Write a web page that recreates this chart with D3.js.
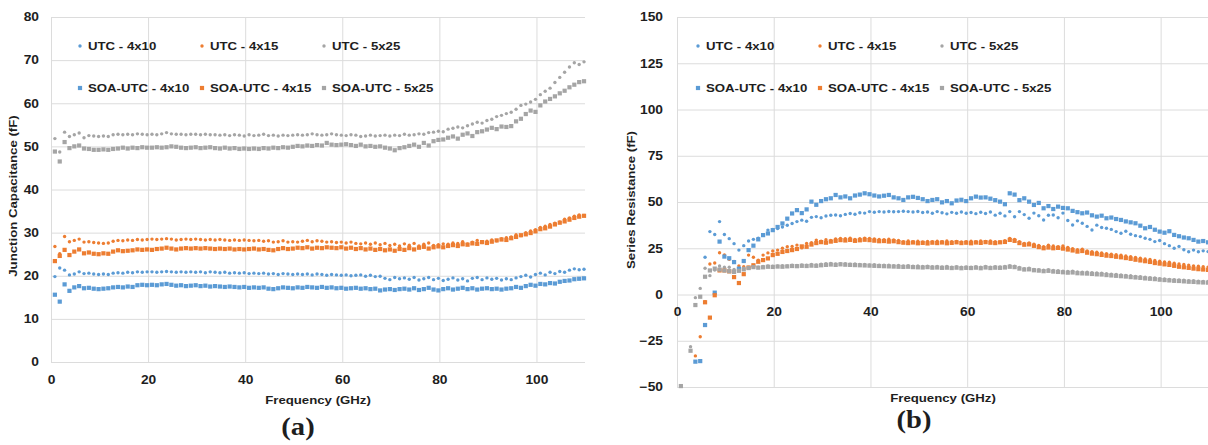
<!DOCTYPE html>
<html>
<head>
<meta charset="utf-8">
<script src="https://cdn.jsdelivr.net/npm/d3@7"></script>
<style>
  body { margin: 0; background: #fff; }
  svg { display: block; }
  text { font-family: "Liberation Sans", Arial, sans-serif; font-weight: bold; fill: #1e1e1e; }
</style>
</head>
<body>
<svg id="chart" width="1208" height="445"></svg>
<script>
// sweep: one point per GHz
const freqGHz = d3.range(110).map(i => 0.8 + i);

const seriesNames = ["UTC - 4x10", "UTC - 4x15", "UTC - 5x25", "SOA-UTC - 4x10", "SOA-UTC - 4x15", "SOA-UTC - 5x25"];
const xTicks = [0, 20, 40, 60, 80, 100];
const capTicks = [0, 10, 20, 30, 40, 50, 60, 70, 80];
const resTicks = [-50, -25, 0, 25, 50, 75, 100, 125, 150];

// (a) Junction capacitance (fF)
const capUtc4x10 = [
  19.8, 21.8, 21.3, 20.2, 20.4, 20.9, 20.5, 20.6, 20.4, 20.3,
  20.4, 20.3, 20.6, 20.7, 20.6, 20.8, 20.7, 20.9, 20.8, 20.9,
  20.9, 20.8, 20.9, 21.0, 20.9, 20.8, 20.9, 20.8, 20.9, 20.8,
  20.9, 20.7, 20.9, 20.8, 20.7, 20.8, 20.6, 20.7, 20.6, 20.7,
  20.5, 20.6, 20.5, 20.6, 20.4, 20.5, 20.3, 20.5, 20.4, 20.3,
  20.4, 20.3, 20.4, 20.2, 20.4, 20.3, 20.1, 20.3, 20.2, 20.1,
  20.2, 20.0, 20.1, 20.2, 19.9, 20.1, 19.8, 19.9, 19.4, 19.1,
  19.6, 19.3, 19.5, 19.2, 19.6, 19.0, 19.3, 19.6, 19.1, 19.4,
  18.9, 19.2, 19.5, 19.0, 19.3, 18.8, 19.4, 19.6, 19.1, 19.5,
  19.2, 19.4, 19.0, 19.3, 19.1, 19.5, 19.8, 20.1, 19.7, 20.3,
  20.6, 20.2, 20.8, 20.5, 21.0, 20.8, 21.3, 21.6, 21.4, 21.5
];
const capUtc4x15 = [
  26.8, 25.1, 29.1, 27.9, 28.2, 28.5, 27.8, 27.9, 27.7, 27.6,
  27.5, 27.6, 28.0, 28.2, 28.1, 28.3, 28.2, 28.4, 28.3, 28.4,
  28.5, 28.4, 28.5, 28.6, 28.5, 28.3, 28.4, 28.5, 28.4, 28.5,
  28.4, 28.3, 28.4, 28.3, 28.4, 28.3, 28.2, 28.3, 28.2, 28.3,
  28.2, 28.1, 28.2, 28.0, 28.1, 27.8, 27.9, 28.1, 27.8, 27.9,
  27.8, 28.0, 28.2, 27.9, 28.1, 28.0, 27.8, 27.9, 27.7, 27.8,
  27.6, 27.8, 27.5, 27.4, 27.6, 27.3, 27.6, 27.2, 27.5, 27.0,
  27.3, 26.9, 27.4, 27.1, 27.5, 26.9, 27.3, 27.6, 27.0, 27.2,
  27.4, 27.3, 27.6, 27.5, 27.9, 27.4, 27.8, 28.2, 27.7, 28.0,
  28.3, 28.1, 28.6, 28.8, 29.0, 29.5, 29.3, 30.0, 30.4, 30.7,
  31.2, 31.5, 31.9, 32.2, 32.5, 33.1, 33.4, 33.8, 34.1, 34.0
];
const capUtc5x25 = [
  51.8, 48.7, 53.3, 52.3, 52.7, 53.1, 52.0, 52.5, 52.4, 52.3,
  52.4, 52.3, 52.7, 52.8, 52.7, 52.8, 52.7, 52.9, 52.8, 52.7,
  52.8, 52.7, 52.9, 53.2, 52.9, 52.8, 52.8, 52.7, 52.8, 52.8,
  52.7, 52.8, 52.7, 52.7, 52.6, 52.7, 52.5, 52.7, 52.6, 52.4,
  52.7, 52.5, 52.6, 52.8, 52.5, 52.6, 52.4, 52.6, 52.5, 52.6,
  52.7, 52.6, 52.7, 52.9, 52.7, 52.6, 52.7, 52.9, 52.7, 52.6,
  52.5, 52.7, 52.6, 52.3, 52.4, 52.6, 52.4, 52.5, 52.6, 52.4,
  52.6, 52.5, 52.8, 52.6, 52.7, 52.9, 52.8, 53.2, 53.3, 53.5,
  53.4, 54.0, 54.2, 54.5, 54.3, 54.8, 55.2, 55.6, 55.4, 56.0,
  56.3, 56.9, 57.2, 57.6, 57.9, 58.6, 59.5, 59.8, 60.3, 60.9,
  62.0, 62.8, 63.5, 64.8, 66.0, 67.2, 68.4, 69.4, 69.0, 69.6
];
const capSoa4x10 = [
  15.6, 14.0, 18.0, 16.5, 17.3, 17.6, 17.1, 17.2, 17.0, 16.9,
  17.0, 17.1, 17.3, 17.4, 17.3, 17.5, 17.4, 17.8, 17.9, 17.8,
  17.9, 17.8, 18.0, 18.1, 17.9, 17.7, 17.8, 17.6, 17.7, 17.8,
  17.6, 17.7, 17.5, 17.6, 17.5, 17.4, 17.5, 17.4, 17.3, 17.4,
  17.2, 17.3, 17.2, 17.3, 17.0, 16.9, 17.1, 17.3, 17.2, 17.1,
  17.3, 17.2, 17.4, 17.3, 17.2, 17.4, 17.2, 17.3, 17.1, 17.2,
  17.0, 17.1, 17.2, 17.0, 17.1, 16.9, 17.0, 16.6, 16.8, 16.9,
  16.7, 16.9, 17.0, 16.8, 17.1, 16.7, 16.9, 17.2, 16.8, 16.6,
  16.9, 17.1, 16.8, 17.0, 17.2, 16.9, 17.1, 16.8, 17.0, 17.1,
  16.9, 17.0, 16.8, 17.0, 17.1, 17.4, 17.2, 17.6, 17.9, 17.7,
  18.1, 18.0, 18.3, 18.2, 18.6, 18.8, 18.9, 19.2, 19.3, 19.4
];
const capSoa4x15 = [
  23.4, 24.6, 26.0, 24.8, 25.6, 26.1, 25.2, 25.4, 25.1, 25.0,
  25.2, 25.1, 25.6, 25.9, 25.7, 25.8, 25.9, 26.1, 26.0, 26.1,
  26.0, 26.2, 26.3, 26.5, 26.3, 26.1, 26.3, 26.4, 26.3, 26.4,
  26.3, 26.4, 26.3, 26.2, 26.3, 26.2, 26.3, 26.1, 26.2, 26.1,
  26.2, 26.3, 26.1, 26.2, 26.0, 25.9, 26.2, 26.4, 26.2, 26.3,
  26.5, 26.4, 26.6, 26.3, 26.5, 26.4, 26.6, 26.5, 26.4, 26.6,
  26.3, 26.5, 26.2, 26.4, 26.1, 26.3, 26.0, 26.2, 25.9, 26.1,
  25.8, 26.2, 26.0, 26.4, 26.1, 26.5, 26.7, 26.3, 26.6, 26.8,
  26.6, 26.9, 27.1, 26.9, 27.3, 27.2, 27.5, 27.4, 27.8, 27.6,
  27.9, 28.2, 28.4, 28.3, 28.7, 29.0, 29.4, 29.6, 29.9, 30.3,
  30.8, 31.0, 31.4, 31.9, 32.3, 32.6, 33.0, 33.4, 33.7, 33.9
];
const capSoa5x25 = [
  48.8, 46.5, 51.0, 49.6, 50.0, 50.2, 49.5, 49.4, 49.2, 49.2,
  49.3, 49.2, 49.4, 49.5, 49.7, 49.5, 49.7, 49.6, 49.8, 49.7,
  49.7, 49.8, 49.7, 49.8, 50.0, 49.9, 49.7, 49.6, 49.7, 49.8,
  49.6, 49.7, 49.8, 49.6, 49.5, 49.7, 49.5, 49.6, 49.4, 49.5,
  49.4, 49.5, 49.4, 49.6, 49.5, 49.7, 49.6, 49.8, 49.7, 49.9,
  50.1, 50.0, 50.2, 50.1, 50.3, 50.2, 50.8, 50.4, 50.3, 50.4,
  50.5, 50.3, 50.1, 50.4, 50.0, 50.1, 49.9, 50.0, 49.7, 49.5,
  49.1, 49.6, 49.8, 50.1, 50.4, 49.9, 50.8, 50.2, 51.2, 51.5,
  51.6, 52.0, 52.3, 51.8, 52.7, 53.0, 52.4, 53.3, 53.5, 53.9,
  54.3, 54.0, 54.6, 54.5, 54.7, 55.8, 56.4, 57.5, 58.3, 58.0,
  59.5, 60.4, 61.0, 61.6, 62.3, 62.9, 63.7, 64.3, 64.9, 65.1
];

// (b) Series resistance, null = point off the chart
const resUtc4x10 = [
  null, null, null, null, null, 20.1, 34.0, 32.4, 39.4, 32.4,
  30.2, 27.5, 24.0, 26.4, 28.9, 29.8, 30.4, 32.1, 34.8, 35.2,
  35.7, 36.5, 37.4, 38.4, 39.4, 40.2, 39.6, 41.7, 42.1, 41.5,
  42.4, 42.8, 43.0, 42.6, 43.3, 43.8, 43.4, 44.2, 44.0, 44.8,
  44.5, 44.8, 44.6, 44.9, 44.7, 44.8, 45.0, 44.8, 44.6, 44.9,
  44.3, 44.6, 43.9, 44.8, 44.2, 43.6, 44.4, 43.9, 44.6, 43.9,
  44.3, 43.7, 44.5, 43.8, 44.6, 42.9, 43.9, 42.5, 44.8, 42.0,
  44.8, 43.2, 41.2, 44.0, 42.6, 40.3, 42.8, 43.0, 41.5, 44.0,
  40.0, 37.6, 39.8, 38.5, 36.8, 34.9, 37.5, 36.2, 35.8, 35.2,
  34.0, 33.1, 34.2, 32.6, 31.8, 31.3, 30.4, 29.8, 28.6, 29.2,
  27.5, 26.4, 25.0, 26.0, 24.2, 23.1, 24.0, 23.1, 23.6, 23.2
];
const resUtc4x15 = [
  null, null, null, -33.2, -22.8, -3.9, 16.5, 17.0, 22.6, 21.4,
  19.0, 17.8, 15.5, 15.0, 21.3, 20.1, 18.6, 21.3, 22.5, 23.5,
  24.0, 25.0, 25.8, 26.0, 26.7, 25.2, 27.6, 28.0, 29.4, 28.8,
  29.6, 29.2, 30.0, 30.3, 30.1, 30.4, 29.8, 30.2, 30.5, 30.3,
  30.0, 29.8, 29.6, 29.9, 29.5, 29.2, 28.6, 28.9, 28.5, 28.8,
  28.4, 28.7, 28.5, 28.8, 28.6, 28.9, 28.5, 28.7, 28.4, 28.6,
  28.8, 28.5, 29.0, 28.7, 28.9, 28.6, 28.4, 29.1, 30.3, 29.8,
  28.5, 27.6, 27.9, 27.2, 26.5, 25.8, 26.6, 26.2, 25.9, 26.3,
  25.5, 24.8, 24.2, 24.5, 23.6, 23.2, 22.8, 22.4, 22.0, 21.8,
  21.5, 21.3, 20.8, 20.5, 20.0, 19.6, 19.2, 18.9, 18.4, 18.0,
  17.6, 17.4, 16.9, 16.5, 16.2, 15.9, 15.5, 15.3, 15.0, 14.8
];
const resUtc5x25 = [
  null, null, -28.2, -1.7, 3.3, 14.2, 10.2, 13.2, 15.4, 14.7,
  14.7, 13.6, 13.0, 14.2, 14.6, 15.0, 14.8, 15.2, 15.4, 15.3,
  15.5, 15.6, 15.4, 15.8, 15.7, 16.0, 15.9, 16.2, 16.0, 16.4,
  16.6, 16.8, 16.5, 16.7, 16.6, 16.4, 16.5, 16.3, 16.2, 16.0,
  16.1, 15.9, 15.8, 15.9, 15.6, 15.7, 15.5, 15.6, 15.3, 15.4,
  15.2, 15.3, 15.0, 15.1, 14.9, 15.1, 14.8, 15.0, 14.7, 14.9,
  14.8, 15.0, 14.7, 15.2, 14.8, 15.0, 14.9, 15.2, 15.6, 15.3,
  14.6, 14.0, 14.2, 13.6, 13.4, 13.1, 13.4, 13.0, 12.8, 12.6,
  12.4, 12.6, 12.2, 12.0, 12.1, 11.8, 11.6, 11.5, 11.2, 11.0,
  10.8, 10.6, 10.3, 10.1, 9.8, 9.6, 9.3, 9.1, 8.9, 8.6,
  8.4, 8.2, 8.0, 7.9, 7.7, 7.5, 7.4, 7.2, 7.1, 7.0
];
const resSoa4x10 = [
  null, null, null, -36.3, -36.0, -16.5, null, 1.0, 28.6, 20.5,
  19.6, 17.5, 14.0, 18.1, 24.0, 26.4, 29.8, 32.1, 33.0, 34.8,
  36.5, 38.4, 41.0, 43.8, 45.6, 44.0, 46.0, 50.2, 48.5, 50.5,
  51.5, 52.0, 53.8, 52.5, 53.0, 52.0, 53.5, 54.0, 54.7, 54.2,
  53.5, 53.0, 53.4, 53.8, 52.5, 52.0, 51.1, 52.5, 52.8, 52.2,
  51.5, 50.5, 51.1, 51.5, 49.8, 50.5, 49.3, 50.8, 51.2, 50.5,
  52.0, 52.9, 52.4, 52.5, 51.8, 51.0, 50.2, 48.8, 54.7, 54.0,
  51.0, 52.0, 50.2, 48.4, 49.5, 46.6, 47.8, 46.2, 47.5, 46.8,
  46.6, 45.2, 44.5, 43.9, 44.3, 42.8, 42.1, 42.6, 41.2, 41.6,
  40.8, 40.3, 39.5, 39.0, 38.5, 37.2, 35.8, 36.5, 35.0, 34.0,
  33.4, 34.2, 32.2, 31.5, 30.8, 30.4, 29.5, 28.6, 28.9, 28.2
];
const resSoa4x15 = [
  null, null, null, null, null, -4.2, -12.5, -0.4, 13.0, 13.0,
  12.5, 9.4, 6.2, 11.0, 14.6, 15.8, 17.7, 18.6, 19.5, 21.3,
  22.0, 23.0, 23.5, 24.0, 24.6, 26.0, 25.8, 27.0, 27.8, 28.3,
  28.0, 28.6, 29.0, 29.4, 29.2, 29.5, 29.0, 29.3, 29.6, 29.4,
  29.1, 28.8, 28.9, 28.6, 28.8, 28.3, 28.0, 27.8, 28.1, 27.7,
  27.9, 27.6, 28.0, 27.8, 28.1, 27.7, 27.9, 28.2, 27.8, 28.0,
  27.7, 28.1, 27.9, 28.3, 28.0, 27.8, 28.2, 28.4, 29.5, 29.0,
  27.8, 26.9, 27.1, 26.3, 25.6, 25.0, 25.4, 25.0, 25.2, 24.8,
  24.3, 23.8, 23.2, 23.5, 22.6, 22.1, 21.8, 21.4, 21.0, 20.8,
  20.4, 20.1, 19.7, 19.3, 18.8, 18.4, 18.0, 17.6, 17.0, 16.7,
  16.3, 16.0, 15.5, 15.0, 14.7, 14.4, 14.0, 13.7, 13.5, 13.3
];
const resSoa5x25 = [
  -49.5, null, -30.4, -5.7, -1.2, 9.6, 13.0, 14.0, 13.5, 13.0,
  12.6, 12.2, 12.8, 13.6, 14.3, 14.8, 14.5, 14.7, 15.0, 14.9,
  15.1, 15.0, 15.2, 15.4, 15.3, 15.5, 15.4, 15.6, 15.5, 15.8,
  16.0, 16.2, 16.0, 16.3, 16.1, 16.0, 15.9, 15.8, 15.7, 15.6,
  15.5, 15.4, 15.3, 15.2, 15.1, 15.0, 14.9, 15.0, 14.8, 14.7,
  14.6, 14.8, 14.5, 14.6, 14.4, 14.5, 14.3, 14.5, 14.2, 14.4,
  14.3, 14.5, 14.2, 14.6, 14.3, 14.5, 14.4, 14.6, 15.0, 14.8,
  14.0, 13.5, 13.6, 13.1, 12.9, 12.6, 12.8, 12.4, 12.2, 12.0,
  11.8, 11.9, 11.5, 11.4, 11.3, 11.1, 10.9, 10.8, 10.5, 10.3,
  10.1, 9.9, 9.7, 9.4, 9.2, 9.0, 8.7, 8.5, 8.3, 8.0,
  7.8, 7.6, 7.4, 7.3, 7.1, 6.9, 6.8, 6.6, 6.5, 6.4
];

const colors = ["#5b9bd5", "#ed7d31", "#a5a5a5", "#5b9bd5", "#ed7d31", "#a5a5a5"];
const STRETCH = 1.15; // the source figure is widened a little

const svg = d3.select("#chart");

function stretch(sel, s) {
  sel.each(function() {
    const t = d3.select(this);
    const x = +t.attr("x") || 0;
    t.attr("x", 0).attr("transform", `translate(${x},0) scale(${s},1)`);
  });
}

function marker(g, kind, cx, cy, color) {
  if (kind === "circle") {
    g.append("circle").attr("cx", cx).attr("cy", cy).attr("r", 1.7).attr("fill", color);
  } else {
    g.append("rect").attr("x", cx - 2.1).attr("y", cy - 2.1).attr("width", 4.2).attr("height", 4.2).attr("fill", color);
  }
}

function drawPanel(cfg) {
  const x = d3.scaleLinear().domain([0, 110]).range([cfg.left, cfg.right]);
  const y = d3.scaleLinear().domain(cfg.yDomain).range([cfg.bottom, cfg.top]);
  const g = svg.append("g");

  // grid
  g.append("g").selectAll("line").data(cfg.yTicks).join("line")
    .attr("x1", cfg.left).attr("x2", cfg.right)
    .attr("y1", d => y(d) + 0.5).attr("y2", d => y(d) + 0.5)
    .attr("stroke", "#dcdcdc").attr("stroke-width", 1);
  g.append("g").selectAll("line").data(xTicks).join("line")
    .attr("x1", d => x(d) + 0.5).attr("x2", d => x(d) + 0.5)
    .attr("y1", cfg.top).attr("y2", cfg.bottom)
    .attr("stroke", "#dcdcdc").attr("stroke-width", 1);

  // axes (labels only)
  const ay = g.append("g")
    .attr("transform", `translate(${cfg.left},0)`)
    .call(d3.axisLeft(y).tickValues(cfg.yTicks).tickSize(0).tickPadding(cfg.yPad));
  ay.select(".domain").remove();
  ay.selectAll("text").attr("font-size", 12).attr("font-family", null).attr("fill", "#262626");
  stretch(ay.selectAll("text"), STRETCH);

  const ax = g.append("g")
    .attr("transform", `translate(0,${y(0)})`)
    .call(d3.axisBottom(x).tickValues(xTicks).tickSize(0).tickPadding(13));
  ax.select(".domain").remove();
  ax.selectAll("text").attr("font-size", 12).attr("font-family", null).attr("fill", "#262626");
  stretch(ax.selectAll("text"), STRETCH);

  // points
  cfg.series.forEach((vals, i) => {
    const pts = vals.map((v, k) => [freqGHz[k], v]).filter(p => p[1] !== null);
    const sg = g.append("g");
    if (i < 3) {
      sg.selectAll("circle").data(pts).join("circle")
        .attr("cx", d => x(d[0])).attr("cy", d => y(d[1]))
        .attr("r", 1.7).attr("fill", colors[i]);
    } else {
      sg.selectAll("rect").data(pts).join("rect")
        .attr("x", d => x(d[0]) - 2.1).attr("y", d => y(d[1]) - 2.1)
        .attr("width", 4.2).attr("height", 4.2).attr("fill", colors[i]);
    }
  });

  // legend
  const lg = g.append("g");
  seriesNames.forEach((name, i) => {
    const col = i % 3, row = Math.floor(i / 3);
    const mx = cfg.legendX + col * 122;
    const by = row === 0 ? 50 : 92;
    marker(lg, i < 3 ? "circle" : "rect", mx, by - 4, colors[i]);
    lg.append("text")
      .attr("transform", `translate(${mx + 8},${by}) scale(${STRETCH},1)`)
      .attr("font-size", 11.5).attr("fill", "#111")
      .text(name);
  });

  // axis titles
  g.append("text")
    .attr("transform", `translate(${(cfg.left + cfg.right) / 2},${cfg.xTitleY}) scale(${STRETCH},1)`)
    .attr("text-anchor", "middle").attr("font-size", 11.5)
    .text("Frequency (GHz)");
  g.append("text")
    .attr("transform", `translate(${cfg.yTitleX},${cfg.yTitleY}) rotate(-90) scale(${STRETCH},1)`)
    .attr("text-anchor", "middle").attr("font-size", 11.5)
    .text(cfg.yTitle);

  // panel tag
  g.append("text")
    .attr("transform", `translate(${cfg.tagX},${cfg.tagY}) scale(1.1,1)`)
    .attr("text-anchor", "middle")
    .style("font-family", '"Liberation Serif", "Times New Roman", serif')
    .attr("font-size", 26).attr("fill", "#000")
    .text(cfg.tag);
}

drawPanel({
  left: 51, right: 585, top: 17, bottom: 362,
  yDomain: [0, 80], yTicks: capTicks, yPad: 12,
  series: [capUtc4x10, capUtc4x15, capUtc5x25, capSoa4x10, capSoa4x15, capSoa5x25],
  legendX: 80,
  xTitleY: 404, yTitle: "Junction Capacitance (fF)", yTitleX: 17, yTitleY: 196,
  tag: "(a)", tagX: 298, tagY: 435
});

drawPanel({
  left: 677, right: 1209, top: 17, bottom: 387,
  yDomain: [-50, 150], yTicks: resTicks, yPad: 14,
  series: [resUtc4x10, resUtc4x15, resUtc5x25, resSoa4x10, resSoa4x15, resSoa5x25],
  legendX: 698,
  xTitleY: 402, yTitle: "Series Resistance (fF)", yTitleX: 635, yTitleY: 200,
  tag: "(b)", tagX: 914, tagY: 428
});
</script>
</body>
</html>
